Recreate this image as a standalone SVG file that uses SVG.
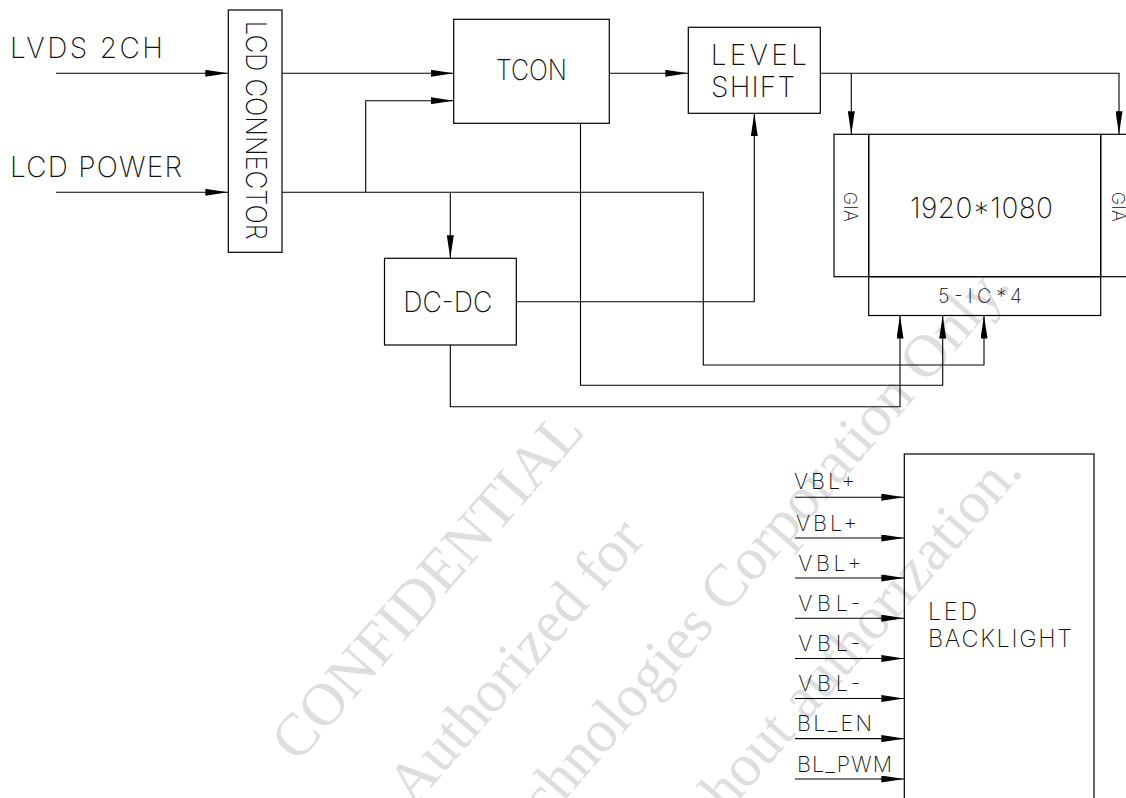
<svg xmlns="http://www.w3.org/2000/svg" width="1126" height="798" viewBox="0 0 1126 798">
<defs>
<marker id="ah" viewBox="0 0 23 7" refX="23" refY="3.5" markerWidth="23" markerHeight="7" markerUnits="userSpaceOnUse" orient="auto"><path d="M0,0 L23,3.5 L0,7 z" fill="#000"/></marker>
<style>
.box{fill:none;stroke:#000;stroke-width:1.2}
.ln{fill:none;stroke:#000;stroke-width:1.1}
.arr{marker-end:url(#ah)}
.t{font-family:Inter,Roboto,"Liberation Sans",sans-serif;font-weight:200;fill:#111}
.wm{font-family:"Liberation Serif",serif;fill:#dedede;font-size:60px}
</style>
</defs>
<rect width="1126" height="798" fill="#fff"/>
<g id="watermark">
<text class="wm" text-anchor="middle" transform="translate(442,598) rotate(-49)">CONFIDENTIAL</text>
<text class="wm" text-anchor="middle" transform="translate(530,674) rotate(-49)">Authorized for</text>
<text class="wm" text-anchor="end" transform="translate(1012,286) rotate(-49)">Technologies Corporation Only.</text>
<text class="wm" text-anchor="end" transform="translate(1024,472) rotate(-49)">without authorization.</text>
</g>
<g id="connectors">
<path class="ln arr" d="M56,73.3 H228.3"/>
<path class="ln arr" d="M56,192.3 H228.3"/>
<path class="ln arr" d="M282,73.3 H453.7"/>
<path class="ln arr" d="M282,192.3 H703.3 V365 H984 V315.5"/>
<path class="ln arr" d="M365.7,192.3 V100.7 H453.7"/>
<path class="ln arr" d="M450.3,192.3 V258.3"/>
<path class="ln arr" d="M609.3,73.3 H688.3"/>
<path class="ln arr" d="M820.3,73.3 H1119 V134.3"/>
<path class="ln arr" d="M851.3,73.3 V134.3"/>
<path class="ln arr" d="M516.3,301.7 H754.3 V113.3"/>
<path class="ln arr" d="M580.5,123.3 V385.3 H942.7 V315.5"/>
<path class="ln arr" d="M450.3,345 V406.7 H900 V315.5"/>
<path class="ln arr" d="M795,497.2 H904.3"/>
<path class="ln arr" d="M795,538 H904.3"/>
<path class="ln arr" d="M795,578 H904.3"/>
<path class="ln arr" d="M795,618.2 H904.3"/>
<path class="ln arr" d="M795,658.5 H904.3"/>
<path class="ln arr" d="M795,698.5 H904.3"/>
<path class="ln arr" d="M795,738.6 H904.3"/>
<path class="ln arr" d="M795,779 H904.3"/>
</g>
<g id="inputs">
<text class="t" x="10" y="58.3" font-size="28" textLength="153">LVDS 2CH</text>
<text class="t" x="10" y="176.7" font-size="28" textLength="172">LCD POWER</text>
</g>
<g id="lcd-connector">
<rect class="box" x="228.3" y="10" width="53.7" height="242.3"/>
<text class="t" transform="translate(246,20.7) rotate(90)" font-size="28" textLength="219" lengthAdjust="spacingAndGlyphs">LCD CONNECTOR</text>
</g>
<g id="tcon">
<rect class="box" x="453.7" y="19.3" width="155.6" height="104"/>
<text class="t" x="496" y="80" font-size="28.5" textLength="71" lengthAdjust="spacingAndGlyphs">TCON</text>
</g>
<g id="level-shift">
<rect class="box" x="688.3" y="27.3" width="132" height="86"/>
<text class="t" x="710.7" y="65" font-size="28" textLength="96">LEVEL</text>
<text class="t" x="711" y="96.7" font-size="28" textLength="84">SHIFT</text>
</g>
<g id="dc-dc">
<rect class="box" x="384.5" y="258.3" width="131.8" height="86.7"/>
<text class="t" x="403.3" y="312.3" font-size="28.5" textLength="89" lengthAdjust="spacingAndGlyphs">DC-DC</text>
</g>
<g id="panel">
<rect class="box" x="834" y="134.3" width="34.7" height="142.4"/>
<rect class="box" x="868.7" y="134.3" width="232" height="142.4"/>
<rect class="box" x="1100.7" y="134.3" width="40" height="142.4"/>
<text class="t" x="910" y="218.3" font-size="28" textLength="143">1920*1080</text>
<text class="t" transform="translate(844,191.7) rotate(90)" font-size="18" textLength="30">GIA</text>
<text class="t" transform="translate(1112,191.7) rotate(90)" font-size="18" textLength="30">GIA</text>
</g>
<g id="source-ic">
<rect class="box" x="868.7" y="276.7" width="232" height="38.8"/>
<text class="t" x="938" y="303.3" font-size="20" textLength="84">5-IC*4</text>
</g>
<g id="led-backlight">
<rect class="box" x="904.3" y="454" width="189.7" height="360"/>
<text class="t" x="928" y="620" font-size="23.5" textLength="49">LED</text>
<text class="t" x="928" y="647" font-size="23.5" textLength="144">BACKLIGHT</text>
</g>
<g id="backlight-labels">
<text class="t" x="794" y="488.7" font-size="21.5" textLength="61">VBL+</text>
<text class="t" x="796" y="530.5" font-size="21.5" textLength="61">VBL+</text>
<text class="t" x="798.3" y="570.5" font-size="21.5" textLength="63">VBL+</text>
<text class="t" x="798.3" y="610.6" font-size="21.5" textLength="62">VBL-</text>
<text class="t" x="798.3" y="650.7" font-size="21.5" textLength="62">VBL-</text>
<text class="t" x="798.3" y="690.8" font-size="21.5" textLength="62">VBL-</text>
<text class="t" x="797" y="730.8" font-size="21.5" textLength="75">BL_EN</text>
<text class="t" x="797" y="771.6" font-size="21.5" textLength="95">BL_PWM</text>
</g>
</svg>
